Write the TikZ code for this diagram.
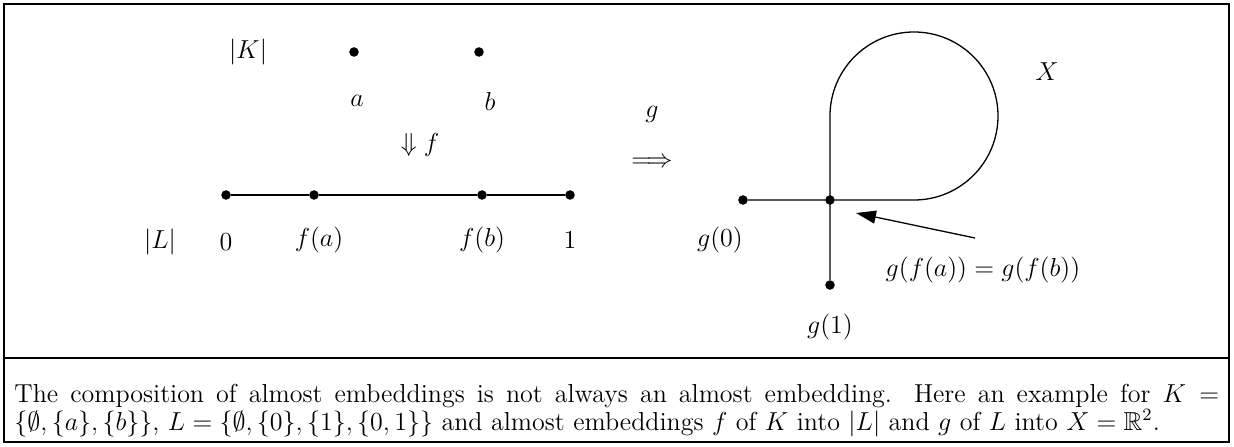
\documentclass[tikz,border=0pt]{standalone}
\usepackage{amsmath,amssymb}
\usetikzlibrary{arrows.meta}
\begin{document}
\begin{tikzpicture}[x=0.4615pt,y=-0.4615pt,
  dot/.style={circle,fill=black,inner sep=0pt,minimum size=4.4pt},
  lbl/.style={inner sep=0pt,font=\large},
  edge/.style={line width=0.6pt}]
\useasboundingbox (0,0) rectangle (1234,447);
\draw[line width=0.5pt] (4,4) rectangle (1229,442);
\draw[line width=0.5pt] (4,358) -- (1229,358);
% |K|
\node[lbl] (K) at (248,52) {$|K|$};
\node[dot] (a) at (354,52) {};
\node[dot] (b) at (479,52) {};
\node[lbl] (la) at (357,101) {$a$};
\node[lbl] (lb) at (490,101) {$b$};
\node[lbl] (f) at (420,145) {$\Downarrow f$};
% g arrow
\node[lbl] (g) at (652,114) {$g$};
\node[lbl] (impl) at (652,163) {$\Longrightarrow$};
% |L|
\node[dot] (p0) at (226,195) {};
\node[dot] (pa) at (314,195) {};
\node[dot] (pb) at (482,195) {};
\node[dot] (p1) at (570,195) {};
\draw[edge] (p0) -- (pa) -- (pb) -- (p1);
\node[lbl] (L) at (160,242) {$|L|$};
\node[lbl] (l0) at (226,242) {$0$};
\node[lbl] (lfa) at (319,240) {$f(a)$};
\node[lbl] (lfb) at (482,240) {$f(b)$};
\node[lbl] (l1) at (570,240) {$1$};
% X
\node[dot] (g0) at (743,200) {};
\node[dot] (c) at (830,200) {};
\node[dot] (g1) at (830,285) {};
\coordinate (top) at (830,116);
\draw[edge] (g1) -- (c.center) -- (top) arc[start angle=180,end angle=450,radius=84] -- (c.center) -- (g0);
\node[lbl] (X) at (1047,72) {$X$};
\node[lbl] (lg0) at (720,240) {$g(0)$};
\node[lbl] (lg1) at (830,327) {$g(1)$};
\node[lbl] (eq) at (983,270) {$g(f(a))=g(f(b))$};
\coordinate (as) at (975,238);
\coordinate (ae) at (856,213);
\draw[edge,-{Triangle[length=9.2pt,width=6pt]}] (as) -- (ae);
% caption
\node[anchor=north west,inner sep=0pt,text width=556pt,align=justify,font=\fontsize{12}{12.6}\selectfont] (cap) at (14,384)
{The composition of almost embeddings is not always an almost embedding. Here an example for $K =$\linebreak $\{\emptyset,\{a\},\{b\}\}$, $L=\{\emptyset,\{0\},\{1\},\{0,1\}\}$ and almost embeddings $f$ of $K$ into $|L|$ and $g$ of $L$ into $X=\mathbb{R}^2$.};
\end{tikzpicture}
\end{document}
